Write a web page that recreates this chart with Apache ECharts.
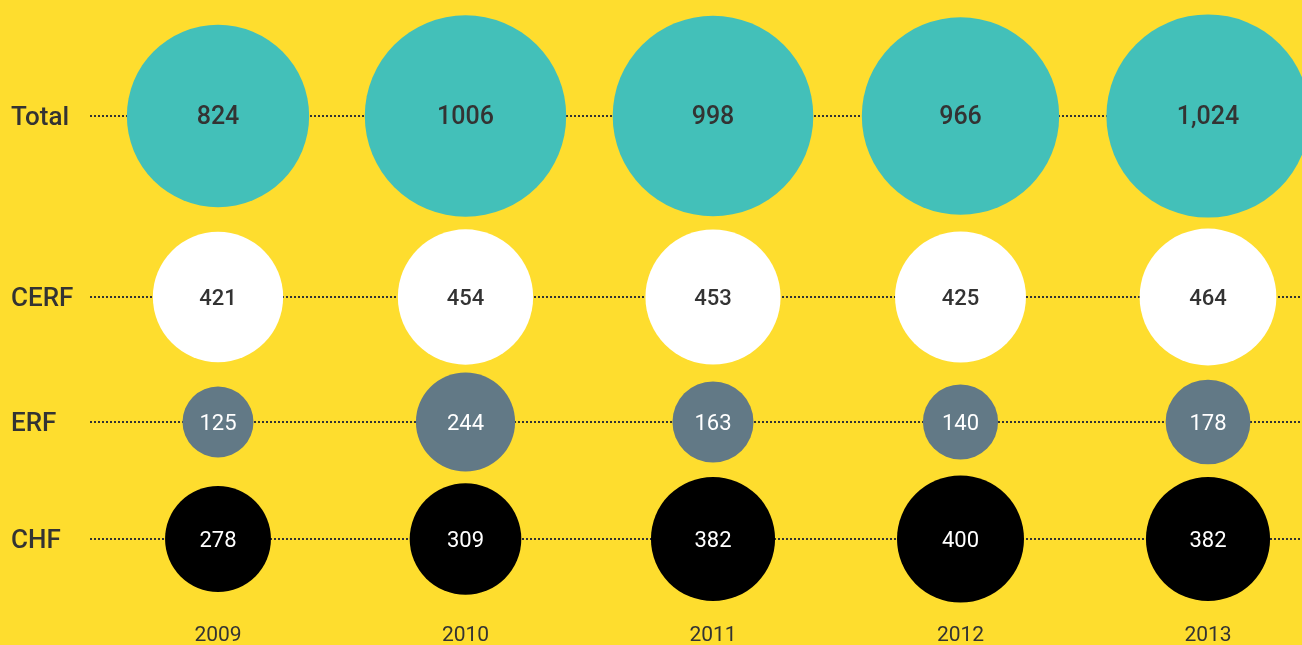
<!DOCTYPE html>
<html>
<head>
<meta charset="utf-8">
<script src="https://cdn.jsdelivr.net/npm/echarts@6/dist/echarts.min.js"></script>
<style>html,body{margin:0;padding:0;background:#FEDD2E;}#c{width:1302px;height:645px;}</style>
</head>
<body>
<div id="c"></div>
<script>
// ---- data ----
var years = ['2009', '2010', '2011', '2012', '2013'];
var rows = ['Total', 'CERF', 'ERF', 'CHF'];
var totalValues = [824, 1006, 998, 966, 1024];
var totalLabels = ['824', '1006', '998', '966', '1,024'];
var cerfValues = [421, 454, 453, 425, 464];
var erfValues = [125, 244, 163, 140, 178];
var chfValues = [278, 309, 382, 400, 382];

// ---- layout / style ----
var seriesValues = [totalValues, cerfValues, erfValues, chfValues];
var seriesLabels = [totalLabels, null, null, null];
var rowCenters = [116, 297, 422, 539];
var colors = ['#43C0B9', '#FFFFFF', '#627986', '#000000'];
var labelColors = ['#333333', '#333333', '#FFFFFF', '#FFFFFF'];
var labelSizes = [25, 22, 22, 22];
var labelWeights = [500, 500, 400, 400];
var K = 6.35;
var lineLeft = 90, firstX = 218, lastX = 1208, W = 1302;
var step = (lastX - firstX) / (years.length - 1);
var xMin = 0 - (firstX - lineLeft) / step;
var xMax = (years.length - 1) + (W - lastX) / step;
var font = 'Roboto, "DejaVu Sans", sans-serif';

var grids = [], xAxes = [], yAxes = [], series = [];
rows.forEach(function (name, i) {
  grids.push({ left: lineLeft, right: 0, top: rowCenters[i] - 10, height: 20 });
  xAxes.push({ type: 'value', gridIndex: i, min: xMin, max: xMax, show: false });
  yAxes.push({
    type: 'category', gridIndex: i, data: [name],
    axisLine: { show: false }, axisTick: { show: false }, splitLine: { show: false },
    axisLabel: {
      align: 'left', margin: lineLeft - 11,
      formatter: function (v) { return '{r|' + v + '}'; },
      rich: { r: { fontSize: 26, fontWeight: 500, color: '#333', fontFamily: font, padding: [5, 0, 0, 0] } }
    }
  });
  series.push({
    type: 'line', xAxisIndex: i, yAxisIndex: i, data: [], z: 1, silent: true,
    markLine: {
      silent: true, z: 1, symbol: ['none', 'none'], label: { show: false },
      lineStyle: { color: '#333', width: 2, type: [2, 2] },
      emphasis: { disabled: true },
      data: [{ yAxis: name }]
    }
  });
  var vals = seriesValues[i];
  var labs = seriesLabels[i];
  series.push({
    type: 'scatter', xAxisIndex: i, yAxisIndex: i, z: 3,
    data: vals.map(function (v, j) { return [j, name, v, labs ? labs[j] : String(v)]; }),
    symbolSize: function (d) { return K * Math.sqrt(d[2]); },
    itemStyle: { color: colors[i], opacity: 1 },
    label: {
      show: true, position: 'inside', color: labelColors[i], fontSize: labelSizes[i],
      fontWeight: labelWeights[i], fontFamily: font, offset: [0, 2],
      formatter: function (p) { return p.data[3]; }
    },
    emphasis: { disabled: true }
  });
});
// year labels
grids.push({ left: firstX, right: W - lastX, top: 615, height: 1 });
xAxes.push({
  type: 'category', gridIndex: 4, data: years, boundaryGap: false,
  axisLine: { show: false }, axisTick: { show: false },
  axisLabel: { margin: 10, fontSize: 21, color: '#333', fontFamily: font, fontWeight: 400 }
});
yAxes.push({ type: 'value', gridIndex: 4, show: false });

var chart = echarts.init(document.getElementById('c'));
chart.setOption({
  backgroundColor: '#FEDD2E',
  animation: false,
  grid: grids, xAxis: xAxes, yAxis: yAxes, series: series
});
</script>
</body>
</html>
